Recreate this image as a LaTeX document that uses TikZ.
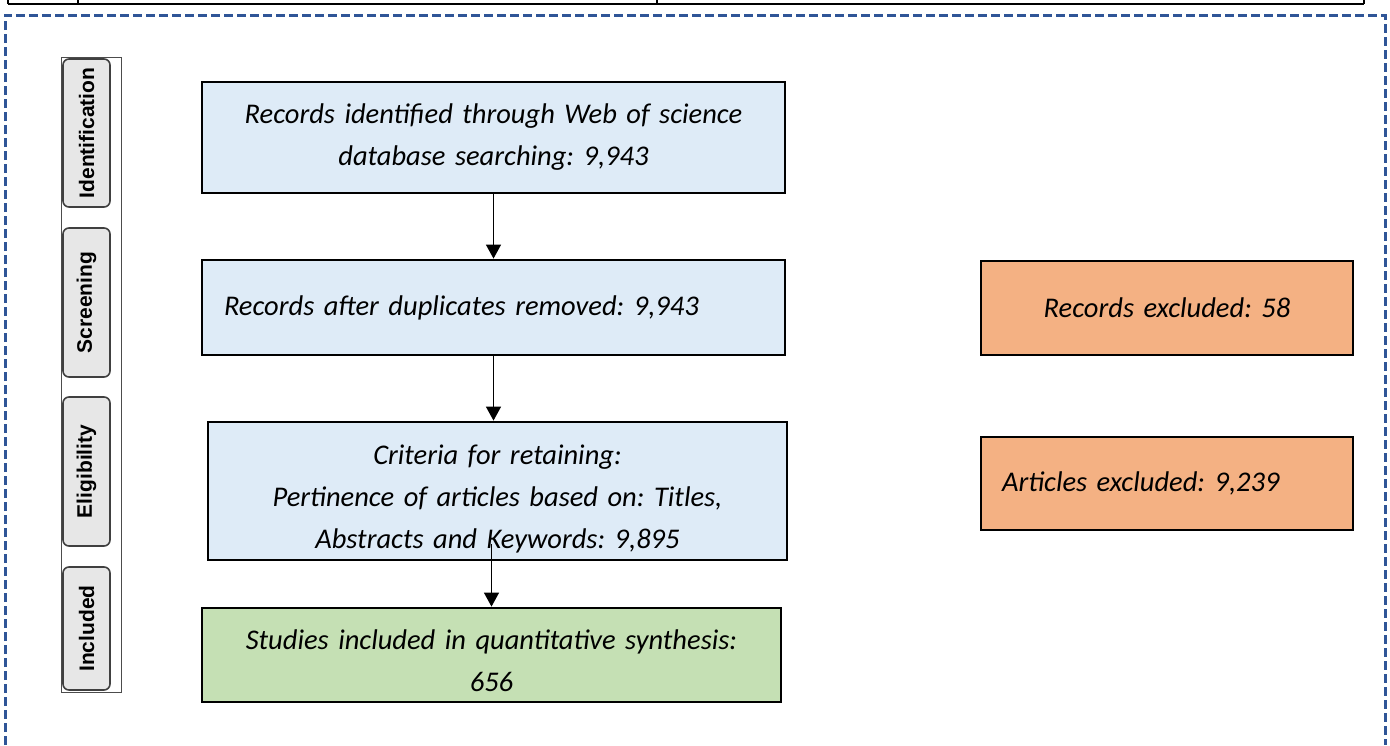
\documentclass[tikz,border=0pt]{standalone}
\usepackage{fontspec}
\setmainfont{Carlito}
\newfontfamily\stagefont{Liberation Sans}
\usetikzlibrary{arrows.meta}
\definecolor{boxblue}{HTML}{DEEBF7}
\definecolor{boxgreen}{HTML}{C5E0B4}
\definecolor{boxorange}{HTML}{F4B183}
\definecolor{frameblue}{HTML}{2F5597}
\definecolor{stagegray}{HTML}{E7E7E7}
\frenchspacing
\begin{document}
\begin{tikzpicture}[x=1pt,y=-1pt,
    box/.style={draw=black, line width=2.8pt, inner sep=0pt, align=center,
      font=\itshape\fontsize{28.5}{42}\selectfont},
    stage/.style={draw=black!75, fill=stagegray, line width=1.6pt, rounded corners=6pt,
      rotate=90, inner sep=0pt, minimum height=47pt,
      font=\stagefont\bfseries\fontsize{21}{24}\selectfont},
    flow/.style={line width=1.3pt, -{Triangle[width=15pt,length=14pt]}}]
  \useasboundingbox (0,0) rectangle (1390,745);
  % table edge above
  \draw[line width=2pt] (8,4) -- (1364,4);
  \draw[line width=2pt] (8,0) -- (8,4) (78,0) -- (78,4) (657,0) -- (657,4) (1364,0) -- (1364,4);
  % dashed frame
  \draw[frameblue, line width=3pt, dash pattern=on 9pt off 4pt]
    (5,745) -- (5,15) -- (1385,15) -- (1385,745);
  % stages
  \draw[black!70, line width=1pt] (61,57) rectangle (121,692);
  \node[stage, minimum width=148pt] (ident) at (86.5,133) {Identification};
  \node[stage, minimum width=149pt] (screen) at (86.5,302.5) {Screening};
  \node[stage, minimum width=149pt] (elig) at (86.5,471.5) {Eligibility};
  \node[stage, minimum width=123pt] (incl) at (86.5,628.5) {Included};
  % boxes
  \node[box, fill=boxblue, minimum width=583pt, minimum height=111pt, text width=540pt]
    (box1) at (493.5,137.5) {Records identified through Web of science\\database searching: 9,943};
  \node[box, fill=boxblue, minimum width=583pt, minimum height=95pt, text width=539pt, align=left]
    (box2) at (493.5,307.5) {Records after duplicates removed: 9,943};
  \node[box, fill=boxblue, minimum width=579pt, minimum height=138pt, text width=560pt, text height=36pt]
    (box3) at (497.5,491) {Criteria for retaining:\\Pertinence of articles based on: Titles,\\Abstracts and Keywords: 9,895};
  \node[box, fill=boxgreen, minimum width=579pt, minimum height=94pt, text width=560pt, text height=32pt]
    (box4) at (491.5,655) {Studies included in quantitative synthesis:\\656};
  \node[box, fill=boxorange, minimum width=372pt, minimum height=94pt, text width=330pt]
    (excl1) at (1167,308) {Records excluded: 58};
  \node[box, fill=boxorange, minimum width=372pt, minimum height=93pt, text width=330pt, align=left]
    (excl2) at (1167,483.5) {Articles excluded: 9,239};
  % arrows
  \coordinate (k3) at ([yshift=17pt]box3.south);
  \draw[flow] (box1.south) -- (box2.north);
  \draw[flow] (box2.south) -- (box2.south |- box3.north);
  \draw[flow] (k3 -| box4.north) -- (box4.north);
\end{tikzpicture}
\end{document}
